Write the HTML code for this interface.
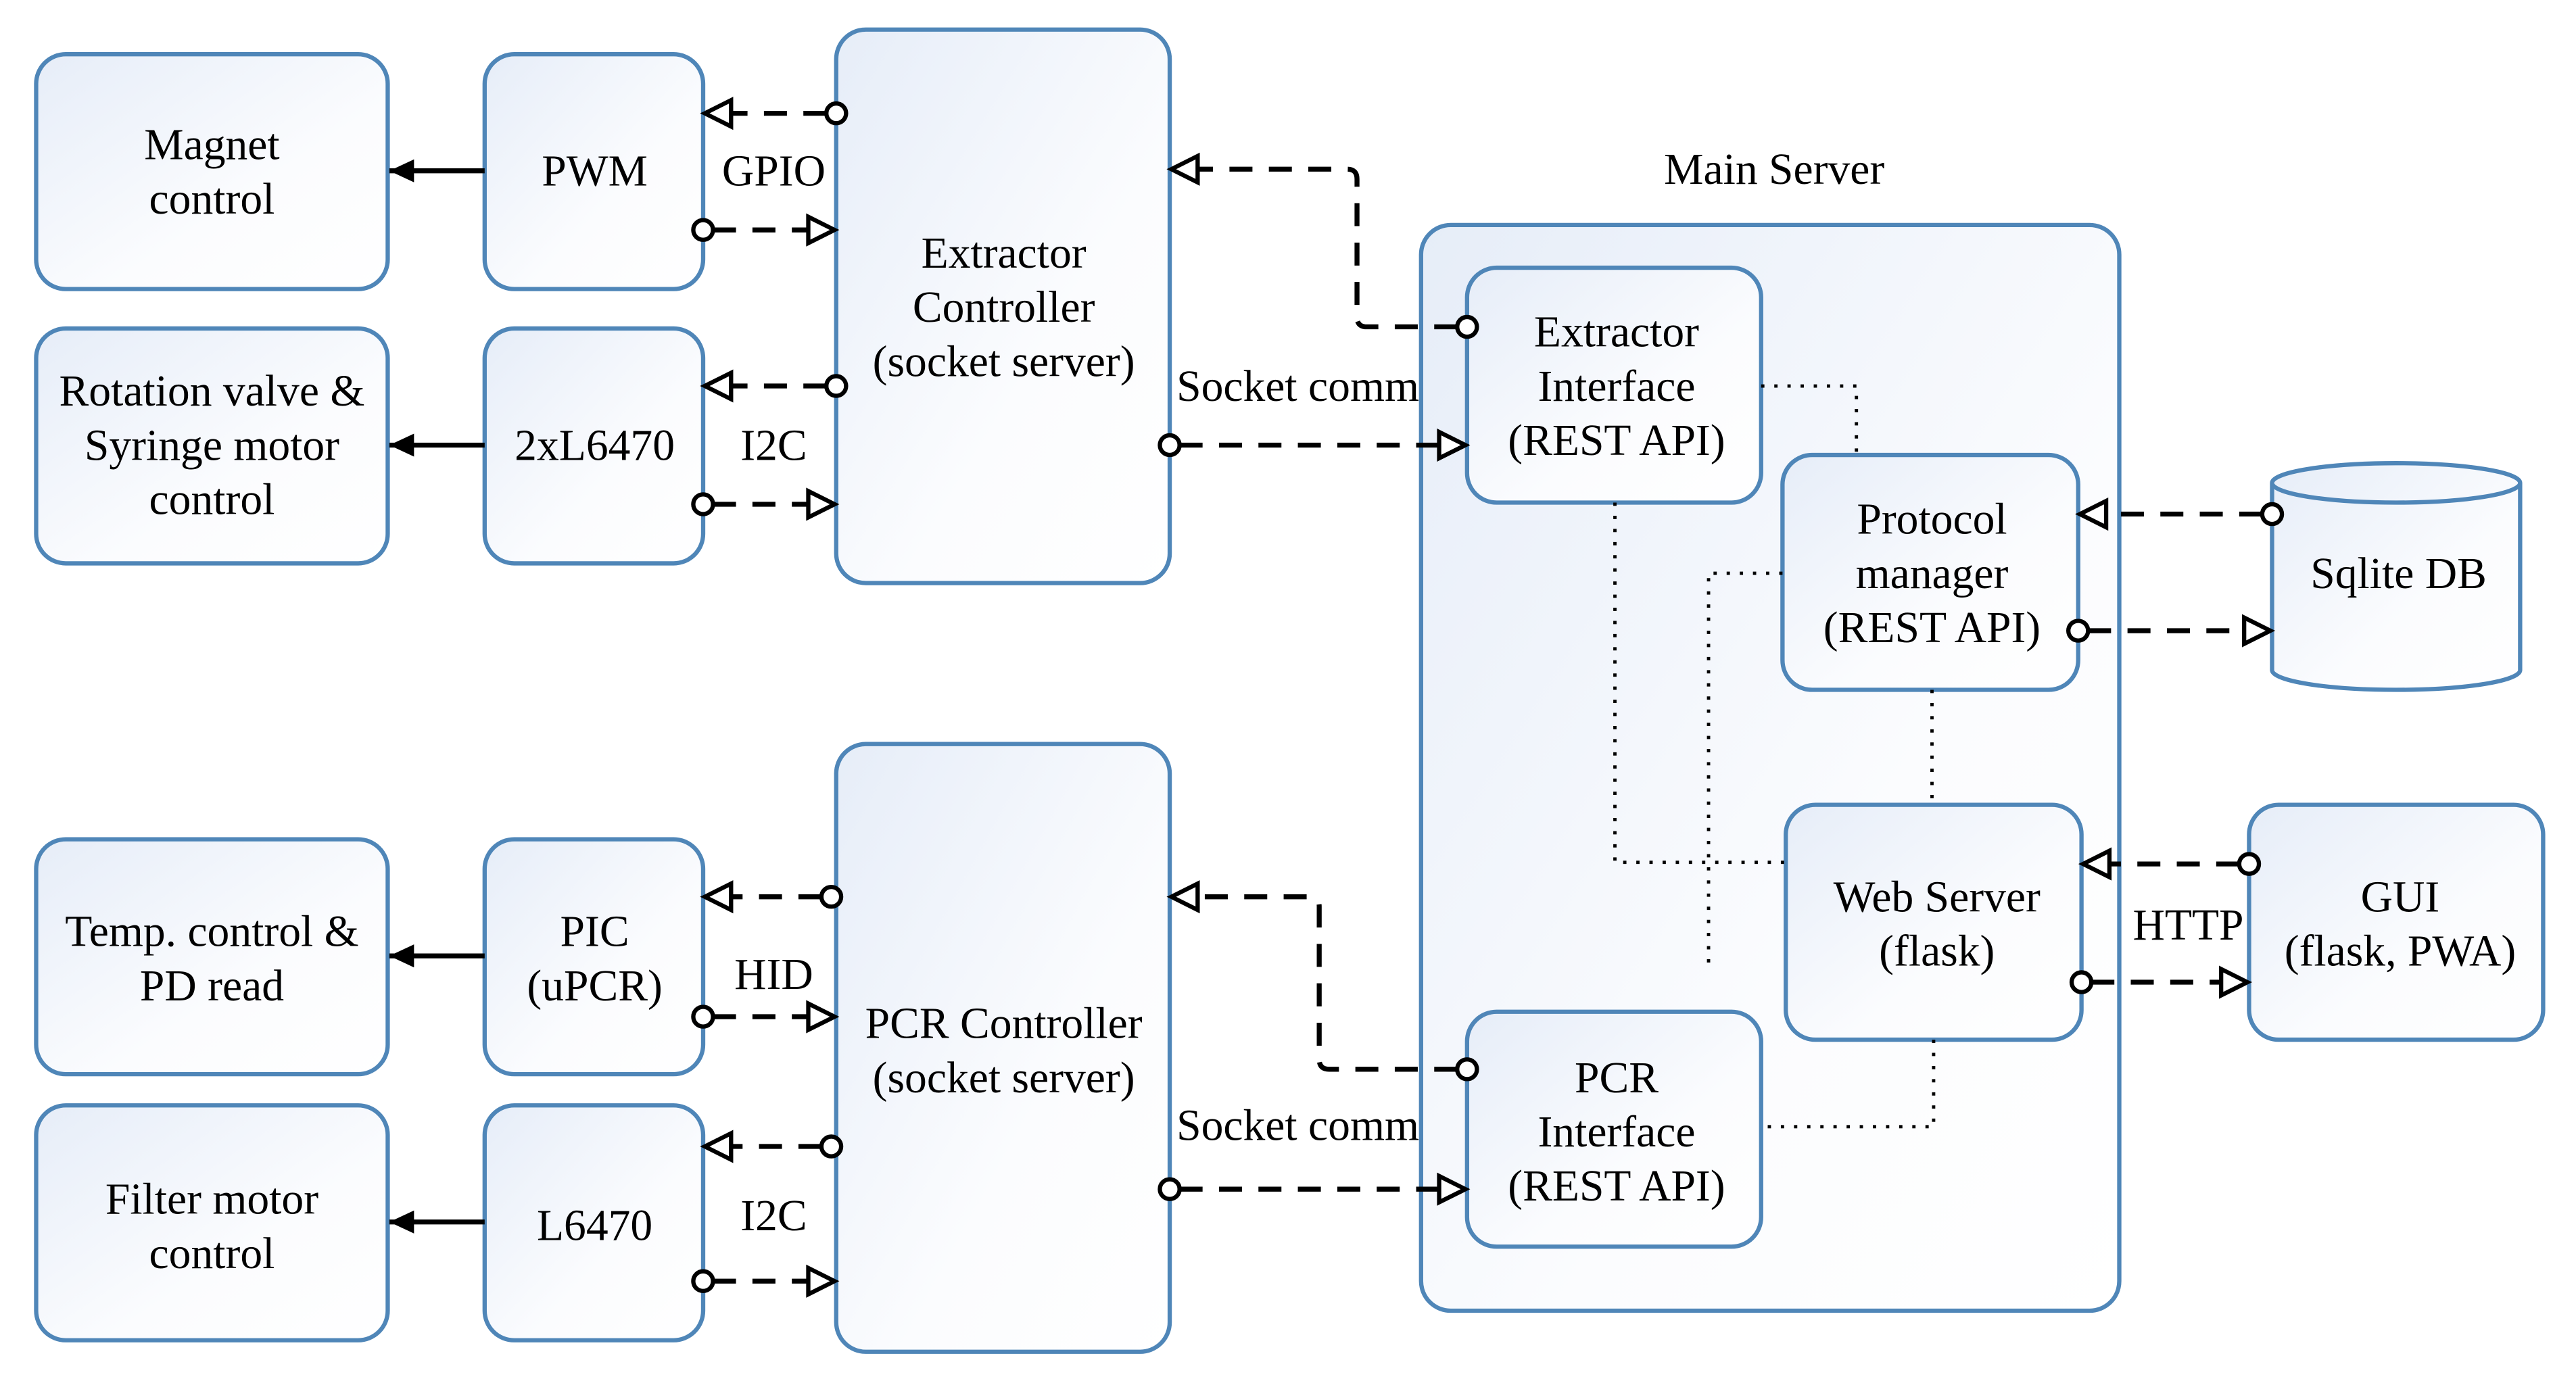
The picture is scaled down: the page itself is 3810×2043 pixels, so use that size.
<!DOCTYPE html>
<html><head><meta charset="utf-8"><style>html,body{margin:0;padding:0;background:#fff}svg{display:block}</style></head><body>
<svg width="3810" height="2043" viewBox="0 0 1568 840.8" xmlns="http://www.w3.org/2000/svg" font-family="'Liberation Serif',serif" font-size="27" text-anchor="middle">
<defs>
<linearGradient id="g" x1="0" y1="0" x2="1" y2="1"><stop offset="0" stop-color="#e6edf8"/><stop offset="0.6" stop-color="#fbfcfe"/><stop offset="1" stop-color="#fff"/></linearGradient>
<marker id="fa" markerWidth="16" markerHeight="16" refX="15" refY="7" orient="auto" markerUnits="userSpaceOnUse"><path d="M0,0 L15,7 L0,14 Z" fill="#000"/></marker>
</defs>
<g fill="url(#g)" stroke="#4f86b8" stroke-width="2.6">
<rect x="865" y="137" width="425" height="661" rx="18"/>
<rect x="22" y="33" width="214" height="143" rx="18"/>
<rect x="295" y="33" width="133" height="143" rx="18"/>
<rect x="22" y="200" width="214" height="143" rx="18"/>
<rect x="295" y="200" width="133" height="143" rx="18"/>
<rect x="509" y="18" width="203" height="337" rx="18"/>
<rect x="22" y="511" width="214" height="143" rx="18"/>
<rect x="295" y="511" width="133" height="143" rx="18"/>
<rect x="22" y="673" width="214" height="143" rx="18"/>
<rect x="295" y="673" width="133" height="143" rx="18"/>
<rect x="509" y="453" width="203" height="370" rx="18"/>
<rect x="893" y="163" width="179" height="143" rx="18"/>
<rect x="1085" y="277" width="180" height="143" rx="18"/>
<rect x="1087" y="490" width="180" height="143" rx="18"/>
<rect x="893" y="616" width="179" height="143" rx="18"/>
<rect x="1369" y="490" width="179" height="143" rx="18"/>
<path d="M1383,294 L1383,408 A75.5,12 0 0 0 1534,408 L1534,294 A75.5,12 0 0 0 1383,294 A75.5,12 0 0 0 1534,294"/>
</g>
<g fill="none" stroke="#000" stroke-width="2" stroke-dasharray="2,6">
<path d="M1072,235 H1130 V277"/>
<path d="M983,306 V525 H1087"/>
<path d="M1085,349 H1040 V590"/>
<path d="M1176,420 V490"/>
<path d="M1177,633 V686 H1072"/>
</g>
<g stroke="#000" stroke-width="3" fill="none">
<path d="M295,104 H237" marker-end="url(#fa)"/>
<path d="M295,271 H237" marker-end="url(#fa)"/>
<path d="M295,582 H237" marker-end="url(#fa)"/>
<path d="M295,744 H237" marker-end="url(#fa)"/>
</g>
<g stroke="#000" stroke-width="3" fill="none" stroke-dasharray="14,10">
<path d="M503,69 H444"/><path d="M434,140 H493"/>
<path d="M503,235 H444"/><path d="M434,307 H493"/>
<path d="M500,546 H444"/><path d="M434,619 H493"/>
<path d="M500,698 H444"/><path d="M434,780 H493"/>
<path d="M887,199 H832 Q826,199 826,193 V109 Q826,103 820,103 H728"/>
<path d="M718,271 H877"/>
<path d="M887,651 H809 Q803,651 803,645 V552 Q803,546 797,546 H728"/>
<path d="M718,724 H877"/>
<path d="M1377,313 H1281"/><path d="M1271,384 H1367"/>
<path d="M1363,526 H1283"/><path d="M1273,598 H1353"/>
</g>
<g stroke="#000" stroke-width="2.6" fill="#fff">
<circle cx="509" cy="69" r="6"/><circle cx="428" cy="140" r="6"/>
<circle cx="509" cy="235" r="6"/><circle cx="428" cy="307" r="6"/>
<circle cx="506" cy="546" r="6"/><circle cx="428" cy="619" r="6"/>
<circle cx="506" cy="698" r="6"/><circle cx="428" cy="780" r="6"/>
<circle cx="893" cy="199" r="6"/><circle cx="712" cy="271" r="6"/>
<circle cx="893" cy="651" r="6"/><circle cx="712" cy="724" r="6"/>
<circle cx="1383" cy="313" r="6"/><circle cx="1265" cy="384" r="6"/>
<circle cx="1369" cy="526" r="6"/><circle cx="1267" cy="598" r="6"/>
</g>
<g stroke="#000" stroke-width="2.6" fill="#fff">
<path d="M429,69 L445,61 L445,77 Z"/><path d="M508,140 L492,132 L492,148 Z"/>
<path d="M429,235 L445,227 L445,243 Z"/><path d="M508,307 L492,299 L492,315 Z"/>
<path d="M429,546 L445,538 L445,554 Z"/><path d="M508,619 L492,611 L492,627 Z"/>
<path d="M429,698 L445,690 L445,706 Z"/><path d="M508,780 L492,772 L492,788 Z"/>
<path d="M713,103 L729,95 L729,111 Z"/><path d="M892,271 L876,263 L876,279 Z"/>
<path d="M713,546 L729,538 L729,554 Z"/><path d="M892,724 L876,716 L876,732 Z"/>
<path d="M1266,313 L1282,305 L1282,321 Z"/><path d="M1382,384 L1366,376 L1366,392 Z"/>
<path d="M1268,526 L1284,518 L1284,534 Z"/><path d="M1368,598 L1352,590 L1352,606 Z"/>
</g>
<g fill="#000">
<text x="129" y="97">Magnet</text><text x="129" y="130">control</text>
<text x="362" y="113">PWM</text>
<text x="129" y="247">Rotation valve &amp;</text><text x="129" y="280">Syringe motor</text><text x="129" y="313">control</text>
<text x="362" y="280">2xL6470</text>
<text x="611" y="163">Extractor</text><text x="611" y="196">Controller</text><text x="611" y="229">(socket server)</text>
<text x="129" y="576">Temp. control &amp;</text><text x="129" y="609">PD read</text>
<text x="362" y="576">PIC</text><text x="362" y="609">(uPCR)</text>
<text x="129" y="739">Filter motor</text><text x="129" y="772">control</text>
<text x="362" y="755">L6470</text>
<text x="611" y="632">PCR Controller</text><text x="611" y="665">(socket server)</text>
<text x="471" y="113">GPIO</text><text x="471" y="280">I2C</text>
<text x="471" y="602">HID</text><text x="471" y="749">I2C</text>
<text x="790" y="244">Socket comm</text><text x="790" y="694">Socket comm</text>
<text x="1080" y="112">Main Server</text>
<text x="984" y="211">Extractor</text><text x="984" y="244">Interface</text><text x="984" y="277">(REST API)</text>
<text x="1176" y="325">Protocol</text><text x="1176" y="358">manager</text><text x="1176" y="391">(REST API)</text>
<text x="1179" y="555">Web Server</text><text x="1179" y="588">(flask)</text>
<text x="984" y="665">PCR</text><text x="984" y="698">Interface</text><text x="984" y="731">(REST API)</text>
<text x="1461" y="555">GUI</text><text x="1461" y="588">(flask, PWA)</text>
<text x="1460" y="358">Sqlite DB</text>
<text x="1332" y="572">HTTP</text>
</g>
</svg>
</body></html>
